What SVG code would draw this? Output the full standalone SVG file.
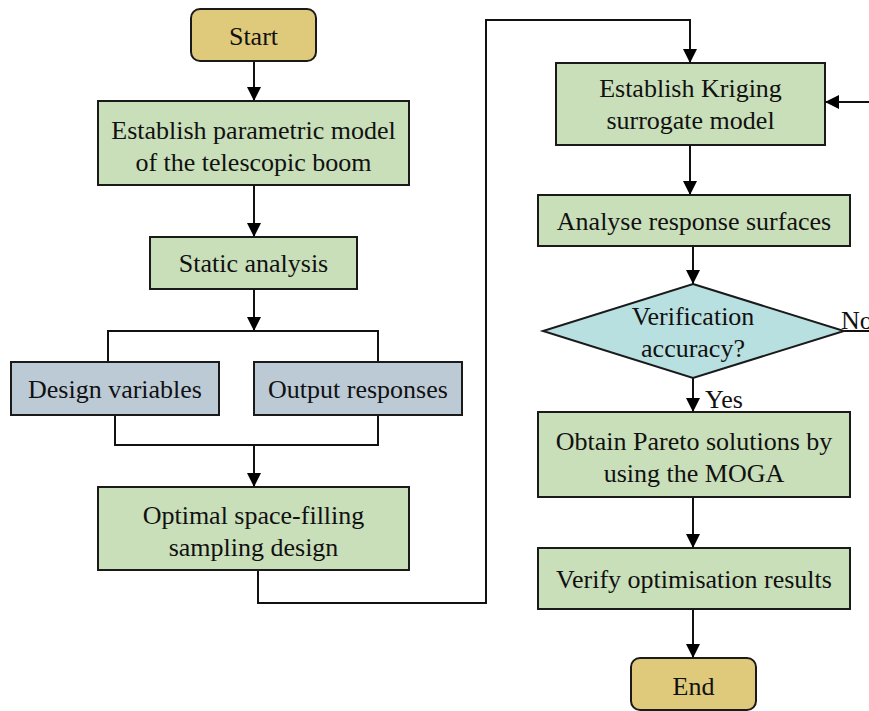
<svg xmlns="http://www.w3.org/2000/svg" width="869" height="711" viewBox="0 0 869 711">
<defs>
<marker id="ah" viewBox="0 0 10 10" refX="10" refY="5" markerWidth="14" markerHeight="14" markerUnits="userSpaceOnUse" orient="auto">
<path d="M0,0 L10,5 L0,10 z" fill="#000"/>
</marker>
<style>
.g{fill:#c9dfb9;stroke:#1a1a1a;stroke-width:2}
.y{fill:#dfc97a;stroke:#1a1a1a;stroke-width:2}
.b{fill:#bccad6;stroke:#1a1a1a;stroke-width:2}
.c{fill:#b8e0e0;stroke:#1a1a1a;stroke-width:2}
.t{font-family:"Liberation Serif","Times New Roman",serif;font-size:26px;fill:#111;text-anchor:middle}
.l{fill:none;stroke:#111;stroke-width:2}
.a{fill:none;stroke:#111;stroke-width:2;marker-end:url(#ah)}
</style>
</defs>
<rect width="869" height="711" fill="#fff"/>
<g id="connectors">
<line class="a" x1="254" y1="62" x2="254" y2="101"/>
<line class="a" x1="254" y1="185" x2="254" y2="237"/>
<line class="a" x1="254" y1="289" x2="254" y2="331"/>
<polyline class="l" points="108,362 108,331 378,331 378,362"/>
<polyline class="l" points="115,415 115,445 378,445 378,415"/>
<line class="a" x1="254" y1="445" x2="254" y2="487"/>
<polyline class="a" points="258,570 258,603 486,603 486,20 690,20 690,63"/>
<line class="a" x1="869" y1="102" x2="825" y2="102"/>
<line class="a" x1="690" y1="145" x2="690" y2="195"/>
<line class="a" x1="693" y1="246" x2="693" y2="284"/>
<line class="l" x1="844" y1="331" x2="869" y2="331"/>
<line class="a" x1="693" y1="378" x2="693" y2="412"/>
<line class="a" x1="693" y1="497" x2="693" y2="548"/>
<line class="a" x1="693" y1="609" x2="693" y2="658"/>
<text class="t" x="841" y="329" style="text-anchor:start">No</text>
<text class="t" x="705" y="408" style="text-anchor:start">Yes</text>
</g>
<g id="start"><rect class="y" x="191" y="9" width="125" height="52" rx="9"/><text class="t" x="253.5" y="45">Start</text></g>
<g id="param"><rect class="g" x="98" y="101" width="311" height="84"/><text class="t" x="253.5" y="139">Establish parametric model</text><text class="t" x="253.5" y="171">of the telescopic boom</text></g>
<g id="static"><rect class="g" x="150" y="237" width="207" height="52"/><text class="t" x="253.5" y="272">Static analysis</text></g>
<g id="design"><rect class="b" x="11" y="362" width="208" height="53"/><text class="t" x="115" y="398">Design variables</text></g>
<g id="output"><rect class="b" x="254" y="362" width="208" height="53"/><text class="t" x="358" y="398">Output responses</text></g>
<g id="sampling"><rect class="g" x="98" y="487" width="311" height="83"/><text class="t" x="253.5" y="524">Optimal space-filling</text><text class="t" x="253.5" y="556">sampling design</text></g>
<g id="kriging"><rect class="g" x="556" y="63" width="269" height="82"/><text class="t" x="690.5" y="97">Establish Kriging</text><text class="t" x="690.5" y="129">surrogate model</text></g>
<g id="analyse"><rect class="g" x="538" y="195" width="312" height="51"/><text class="t" x="694" y="230">Analyse response surfaces</text></g>
<g id="verify"><polygon class="c" points="693,284 844,331 693,378 543,331"/><text class="t" x="693" y="325">Verification</text><text class="t" x="693" y="357">accuracy?</text></g>
<g id="pareto"><rect class="g" x="538" y="412" width="312" height="85"/><text class="t" x="694" y="450">Obtain Pareto solutions by</text><text class="t" x="694" y="482">using the MOGA</text></g>
<g id="verifyres"><rect class="g" x="538" y="548" width="312" height="61"/><text class="t" x="694" y="588">Verify optimisation results</text></g>
<g id="end"><rect class="y" x="631" y="658" width="125" height="52" rx="9"/><text class="t" x="693.5" y="695">End</text></g>
</svg>
